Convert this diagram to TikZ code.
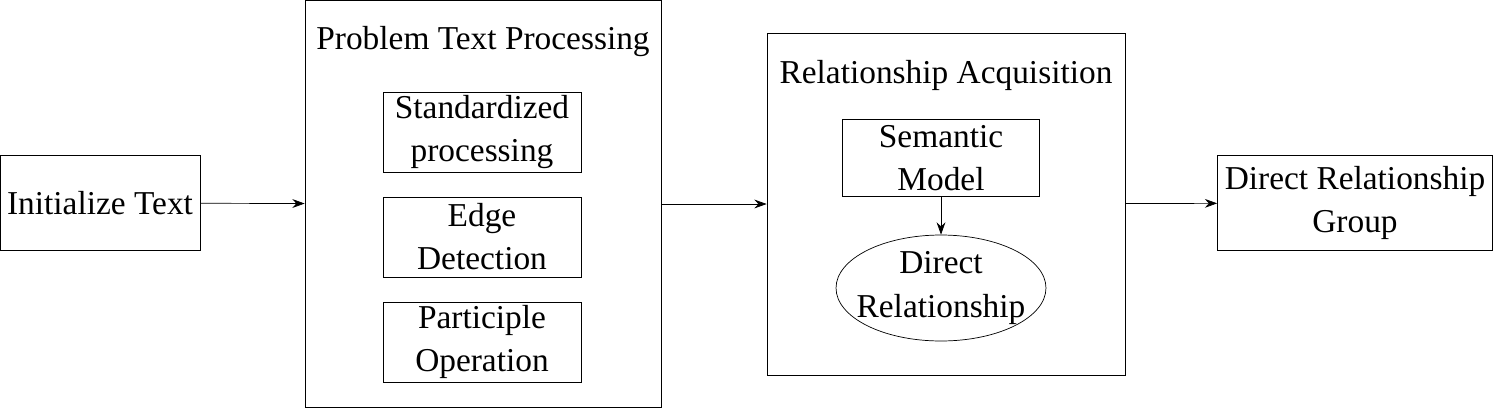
\documentclass[tikz,border=0pt]{standalone}
\usepackage{fontspec}
\setmainfont{Liberation Serif}
\usetikzlibrary{arrows.meta, positioning, shapes.geometric}

\begin{document}
\begin{tikzpicture}[
    x=0.02cm, y=-0.02cm,
    font=\fontsize{19}{24.5}\selectfont,
    box/.style={draw, rectangle, align=center, inner sep=0pt},
    frame/.style={draw, rectangle, inner sep=0pt},
    arrow/.style={-{Stealth[length=7pt, width=5pt]}}
]
\useasboundingbox (0,0) rectangle (1495,410);

% Input and output
\node[box, minimum width=4cm, minimum height=1.9cm] (init) at (100,203) {Initialize Text};
\node[box, minimum width=5.5cm, minimum height=1.9cm] (group) at (1355,203) {Direct Relationship\\Group};

% Problem text processing
\node[frame, minimum width=7.12cm, minimum height=8.14cm] (proc) at (483,204) {};
\node at (483,42) {Problem Text Processing};
\node[box, minimum width=3.96cm, minimum height=1.6cm] (std) at (482,132) {Standardized\\processing};
\node[box, minimum width=3.96cm, minimum height=1.6cm] (edge) at (482,237) {Edge\\Detection};
\node[box, minimum width=3.96cm, minimum height=1.6cm] (part) at (482,342) {Participle\\Operation};

% Relationship acquisition
\node[frame, minimum width=7.16cm, minimum height=6.84cm] (acq) at (946,204) {};
\node at (946,75) {Relationship Acquisition};
\node[box, minimum width=3.94cm, minimum height=1.54cm] (sem) at (941,158) {Semantic\\Model};
\node[draw, ellipse, align=center, inner xsep=-0.22cm, inner ysep=0pt, minimum width=4.2cm, minimum height=2.12cm] (dir) at (941,288) {Direct\\Relationship};

% Connectors
\draw[arrow] (init) -- (proc);
\draw[arrow] (proc) -- (acq);
\draw[arrow] (acq) -- (group);
\draw[arrow] (sem) -- (dir);

\end{tikzpicture}
\end{document}
